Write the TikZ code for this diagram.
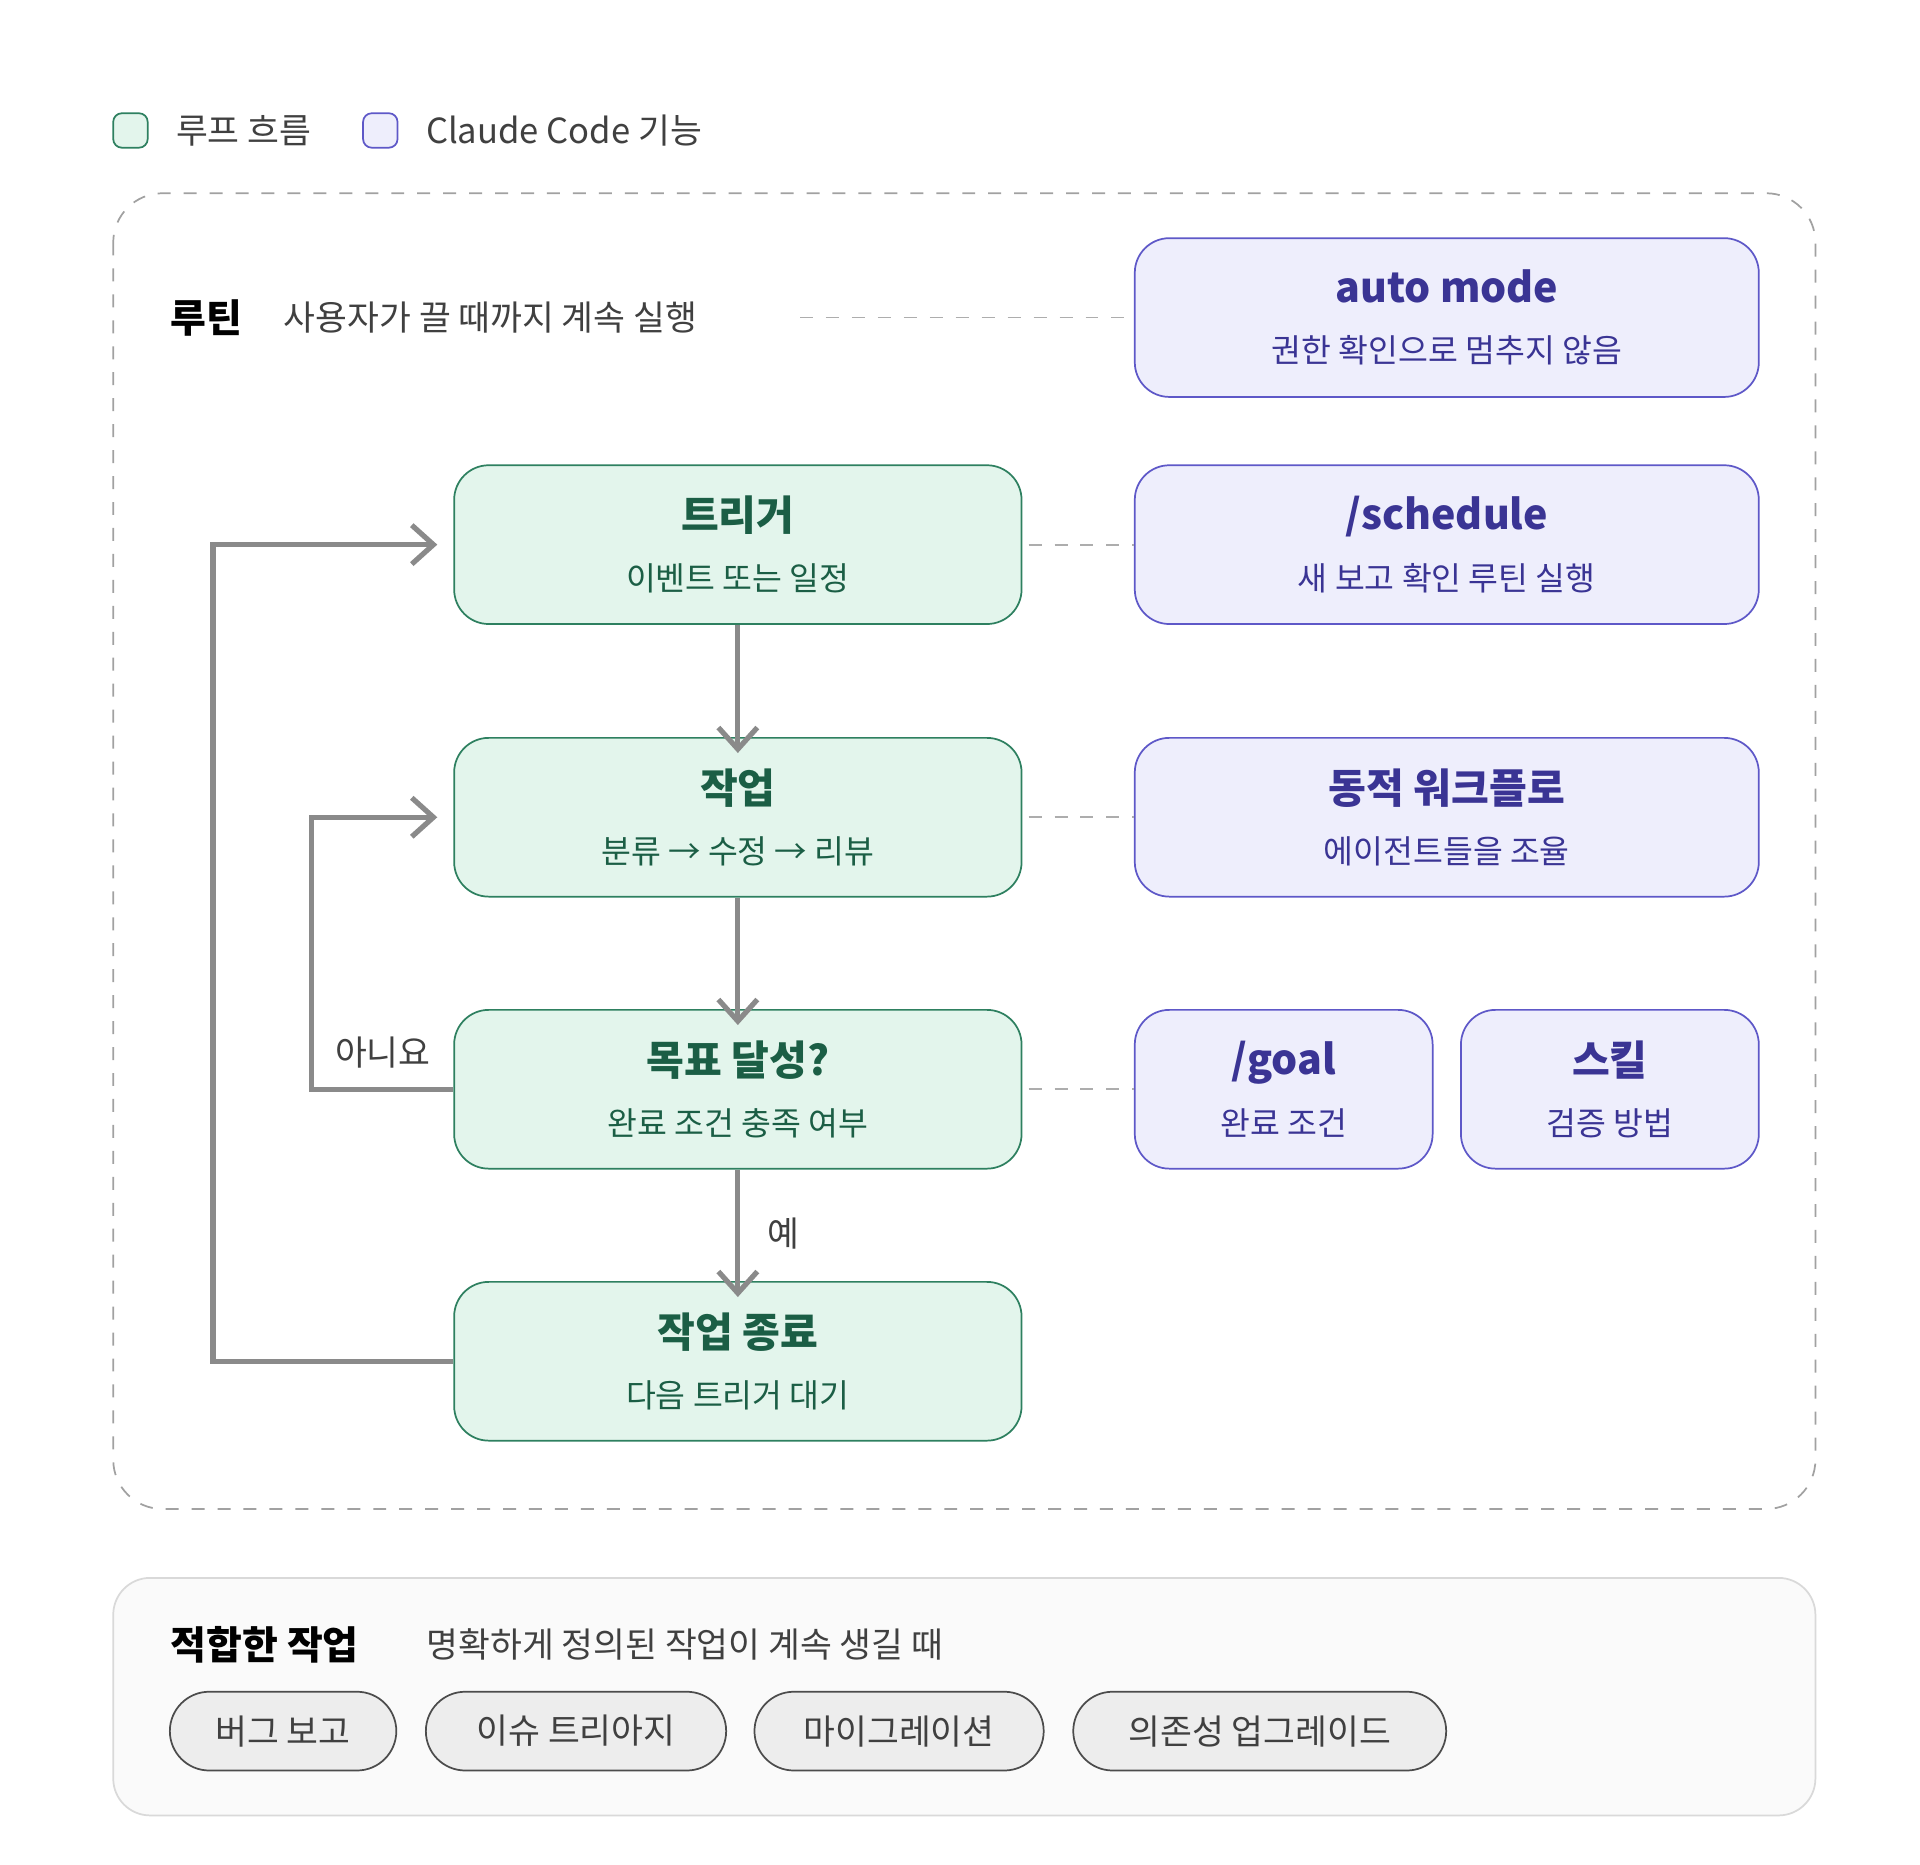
\documentclass[tikz,border=0pt]{standalone}
\usepackage{fontspec}
\setmainfont{Noto Sans CJK KR}
\usetikzlibrary{arrows.meta, positioning}
\definecolor{loopfill}{HTML}{E3F5EC}
\definecolor{loopdraw}{HTML}{2E8060}
\definecolor{looptext}{HTML}{1B5E45}
\definecolor{ccfill}{HTML}{EEEEFC}
\definecolor{ccdraw}{HTML}{5E58C8}
\definecolor{cctext}{HTML}{3A3494}
\definecolor{flow}{HTML}{8A8A8A}
\newcommand{\boxttl}{\fontsize{9.5}{12}\selectfont\bfseries}
\newcommand{\boxsub}{\fontsize{7.5}{10}\selectfont}
\tikzset{
  loopbox/.style={draw=loopdraw,fill=loopfill,rounded corners=8pt,minimum width=4.61cm,minimum height=1.29cm,align=center,text=looptext},
  ccbox/.style={draw=ccdraw,fill=ccfill,rounded corners=8pt,minimum height=1.29cm,align=center,text=cctext},
  pill/.style={draw=black!70,fill=black!7,rounded corners=0.32cm,minimum height=0.64cm,text=black!75,font=\fontsize{8}{10}\selectfont},
  flowarrow/.style={draw=flow,very thick,-{Straight Barb[length=5pt,width=9pt]}},
  link/.style={draw=flow!70,dashed,thin}
}
\begin{document}
\begin{tikzpicture}[x=1cm,y=-1cm]
\useasboundingbox[fill=white] (0,0) rectangle (15.6,15.15);

% legend
\node (lg1) at (1.06,1.06) [draw=loopdraw,fill=loopfill,minimum size=0.28cm,rounded corners=2pt,inner sep=0pt] {};
\node (lt1) [right=0.1cm of lg1,font=\fontsize{8}{10}\selectfont,text=black!75] {루프 흐름};
\node (lg2) at (3.09,1.06) [draw=ccdraw,fill=ccfill,minimum size=0.28cm,rounded corners=2pt,inner sep=0pt] {};
\node (lt2) [right=0.1cm of lg2,font=\fontsize{8}{10}\selectfont,text=black!75] {Claude Code 기능};

% routine frame
\draw[flow!80,dashed,rounded corners=0.4cm] (0.92,1.57) rectangle (14.75,12.26);
\node (rt) at (1.38,2.58) [anchor=west,inner sep=0pt,font=\fontsize{9}{11}\selectfont\bfseries] {루틴};
\node (rtd) at (2.3,2.58) [anchor=west,inner sep=0pt,font=\fontsize{8}{10}\selectfont,text=black!75] {사용자가 끌 때까지 계속 실행};
\coordinate (rte) at (6.5,2.58);

% loop flow
\node[loopbox] (trig) at (5.995,4.425) {{\boxttl 트리거}\\[2pt]{\boxsub 이벤트 또는 일정}};
\node[loopbox] (work) at (5.995,6.64) {{\boxttl 작업}\\[2pt]{\boxsub 분류 → 수정 → 리뷰}};
\node[loopbox] (goal) at (5.995,8.85) {{\boxttl 목표 달성?}\\[2pt]{\boxsub 완료 조건 충족 여부}};
\node[loopbox] (done) at (5.995,11.06) {{\boxttl 작업 종료}\\[2pt]{\boxsub 다음 트리거 대기}};

% claude code features
\node[ccbox,minimum width=5.07cm] (auto) at (11.755,2.58) {{\boxttl auto mode}\\[2pt]{\boxsub 권한 확인으로 멈추지 않음}};
\node[ccbox,minimum width=5.07cm] (sched) at (11.755,4.425) {{\boxttl /schedule}\\[2pt]{\boxsub 새 보고 확인 루틴 실행}};
\node[ccbox,minimum width=5.07cm] (dyn) at (11.755,6.64) {{\boxttl 동적 워크플로}\\[2pt]{\boxsub 에이전트들을 조율}};
\node[ccbox,minimum width=2.42cm] (gcmd) at (10.43,8.85) {{\boxttl /goal}\\[2pt]{\boxsub 완료 조건}};
\node[ccbox,minimum width=2.42cm] (skill) at (13.08,8.85) {{\boxttl 스킬}\\[2pt]{\boxsub 검증 방법}};

\draw[link] (rte) -- (auto.west);
\draw[link] ([xshift=0.05cm]trig.east) -- (sched.west);
\draw[link] ([xshift=0.05cm]work.east) -- (dyn.west);
\draw[link] ([xshift=0.05cm]goal.east) -- (gcmd.west);

\draw[flowarrow] (trig) -- ([yshift=-0.13cm]work.north);
\draw[flowarrow] (work) -- ([yshift=-0.13cm]goal.north);
\draw[flowarrow] (goal) -- node[right=0.1cm,font=\fontsize{8}{10}\selectfont,text=black!75] {예} ([yshift=-0.13cm]done.north);
\draw[flowarrow] (goal.west) -- (2.53,8.85) |- ([xshift=-0.13cm]work.west);
\draw[flowarrow] (done.west) -- (1.73,11.06) |- ([xshift=-0.13cm]trig.west);
\node (no) at (3.11,8.55) [font=\fontsize{8}{10}\selectfont,text=black!75] {아니요};

% suitable tasks
\draw[black!15,fill=black!2,rounded corners=0.3cm] (0.92,12.82) rectangle (14.75,14.75);
\node (fit) at (1.38,13.36) [anchor=west,inner sep=0pt,font=\fontsize{9}{11}\selectfont\bfseries] {적합한 작업};
\node (fitd) at (3.46,13.36) [anchor=west,inner sep=0pt,font=\fontsize{8}{10}\selectfont,text=black!75] {명확하게 정의된 작업이 계속 생길 때};
\node[pill,minimum width=1.84cm] (p1) at (2.3,14.065) {버그 보고};
\node[pill,minimum width=2.44cm] (p2) at (4.68,14.065) {이슈 트리아지};
\node[pill,minimum width=2.35cm] (p3) at (7.305,14.065) {마이그레이션};
\node[pill,minimum width=3.03cm] (p4) at (10.235,14.065) {의존성 업그레이드};
\end{tikzpicture}
\end{document}
